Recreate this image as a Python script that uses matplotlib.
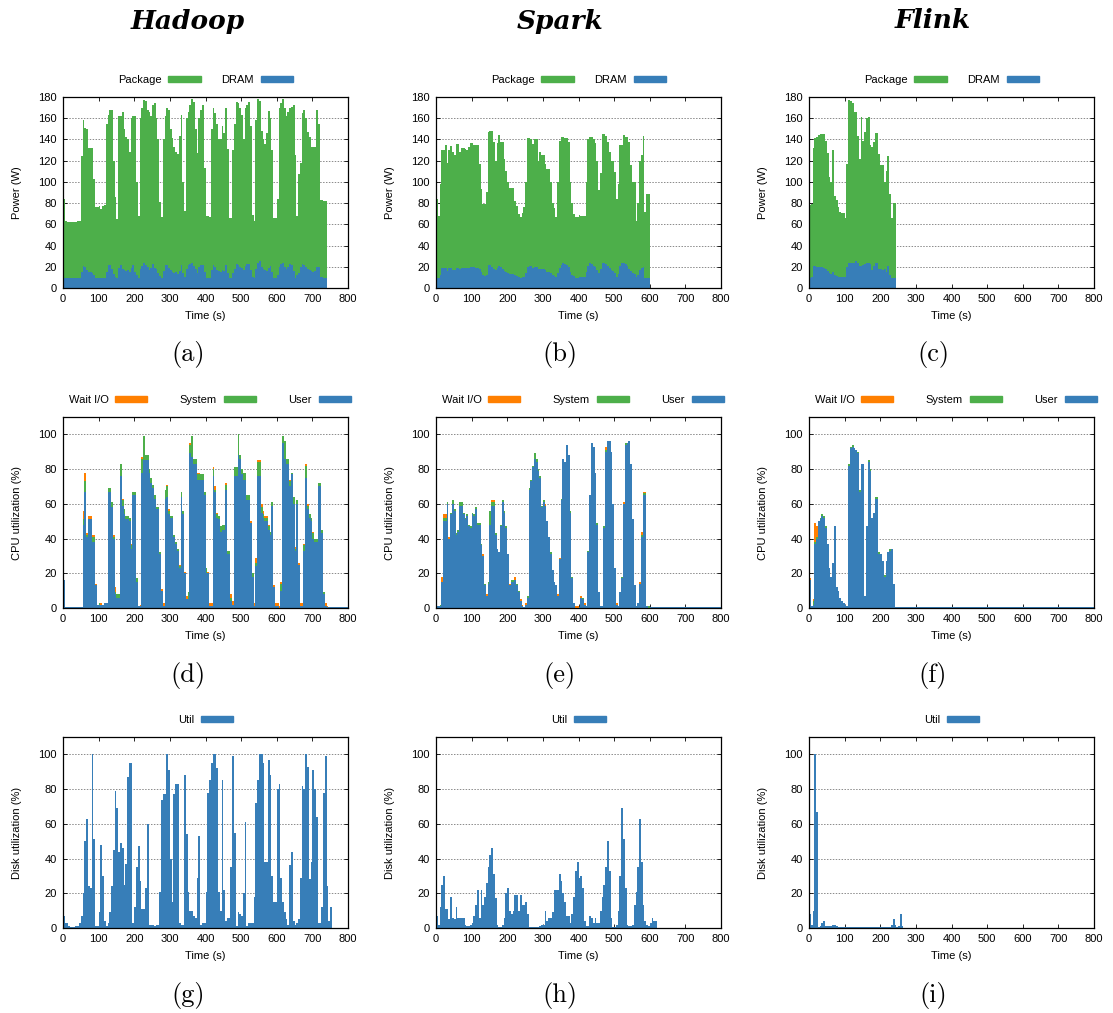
import numpy as np
import matplotlib
matplotlib.use("Agg")
import matplotlib.pyplot as plt
from matplotlib.patches import Patch

# ========================
# Data (one sample every 5 s)
# ========================
STEP = 5

HADOOP_PKG = [
    84, 63, 62, 62, 62, 62, 62, 62, 63, 63,
    124, 158, 151, 150, 132, 132, 132, 103, 76, 76,
    77, 74, 77, 78, 155, 163, 168, 168, 120, 86,
    65, 162, 162, 166, 150, 142, 140, 128, 160, 162,
    162, 100, 68, 160, 170, 177, 176, 168, 166, 162,
    172, 174, 160, 140, 81, 67, 140, 162, 170, 168,
    150, 141, 133, 128, 126, 143, 163, 100, 73, 160,
    166, 172, 178, 175, 150, 127, 160, 168, 172, 113,
    68, 68, 67, 150, 170, 165, 155, 140, 140, 153,
    146, 170, 131, 66, 66, 130, 155, 175, 174, 170,
    163, 140, 170, 172, 175, 153, 69, 63, 158, 178,
    176, 148, 140, 136, 146, 167, 160, 130, 66, 66,
    84, 170, 174, 178, 170, 162, 166, 170, 171, 172,
    125, 68, 107, 118, 165, 168, 160, 147, 142, 133,
    133, 133, 168, 155, 83, 83, 82, 82,
]
HADOOP_DRAM = [
    9, 9, 9, 9, 9, 9, 9, 9, 9, 9,
    15, 21, 20, 17, 15, 15, 14, 12, 9, 9,
    9, 9, 9, 9, 15, 22, 22, 18, 13, 10,
    9, 19, 22, 18, 17, 16, 17, 15, 19, 22,
    15, 12, 9, 18, 21, 24, 22, 20, 17, 19,
    23, 19, 18, 14, 11, 9, 16, 22, 22, 19,
    17, 15, 14, 15, 13, 16, 22, 14, 10, 18,
    22, 23, 24, 21, 18, 14, 20, 22, 22, 15,
    9, 9, 9, 17, 22, 20, 17, 16, 15, 17,
    16, 22, 14, 9, 9, 14, 18, 23, 22, 20,
    19, 17, 21, 23, 23, 17, 10, 9, 18, 24,
    25, 20, 18, 17, 16, 19, 21, 15, 9, 9,
    12, 20, 23, 24, 20, 18, 20, 23, 22, 16,
    9, 12, 14, 20, 23, 22, 20, 18, 17, 16,
    15, 16, 20, 20, 10, 10, 9, 9,
]

SPARK_PKG = [
    84, 68, 98, 130, 130, 135, 118, 130, 134, 128,
    125, 136, 136, 128, 132, 132, 131, 130, 133, 137,
    137, 135, 135, 135, 117, 93, 79, 79, 90, 147,
    148, 148, 138, 120, 137, 144, 138, 138, 122, 110,
    100, 94, 94, 94, 82, 77, 70, 67, 71, 76,
    100, 141, 141, 140, 136, 140, 140, 120, 128, 125,
    125, 117, 112, 112, 100, 80, 75, 67, 100, 139,
    142, 142, 141, 141, 138, 100, 80, 70, 67, 67,
    69, 68, 68, 68, 100, 140, 142, 142, 140, 137,
    120, 92, 108, 145, 145, 143, 138, 128, 120, 120,
    109, 84, 98, 135, 135, 144, 142, 142, 138, 116,
    100, 100, 63, 80, 120, 125, 143, 72, 89, 89,
]
SPARK_DRAM = [
    9, 9, 12, 19, 19, 19, 16, 19, 19, 17,
    17, 19, 19, 18, 19, 19, 19, 19, 19, 20,
    20, 20, 19, 19, 18, 15, 12, 11, 12, 22,
    22, 20, 18, 17, 19, 21, 20, 18, 16, 15,
    14, 13, 13, 13, 12, 11, 10, 9, 10, 10,
    14, 20, 21, 21, 19, 20, 20, 18, 18, 18,
    18, 17, 15, 15, 14, 12, 11, 10, 14, 19,
    22, 24, 23, 22, 20, 15, 12, 11, 9, 9,
    10, 10, 10, 10, 15, 21, 24, 23, 21, 20,
    17, 14, 18, 24, 24, 23, 21, 19, 17, 16,
    14, 10, 13, 21, 24, 24, 23, 21, 18, 16,
    14, 13, 10, 12, 17, 19, 20, 9, 9, 9,
]

FLINK_PKG = [
    78, 79, 132, 141, 142, 144, 145, 145, 145, 139,
    127, 105, 100, 130, 87, 83, 76, 72, 71, 71,
    66, 117, 177, 176, 174, 166, 166, 143, 122, 161,
    139, 147, 160, 161, 135, 133, 138, 146, 146, 126,
    116, 116, 100, 110, 124, 89, 66, 80, 80,
]
FLINK_DRAM = [
    9, 10, 21, 21, 20, 20, 20, 20, 19, 18,
    16, 14, 13, 15, 12, 11, 10, 10, 10, 10,
    10, 20, 24, 24, 24, 24, 25, 24, 21, 21,
    22, 23, 24, 24, 23, 17, 21, 24, 24, 18,
    18, 17, 18, 15, 21, 12, 9, 9, 9,
]

HADOOP_USER = [
    16, .5, .5, .5, .5, .5, .5, .5, .5, .5,
    .5, 48, 67, 41, 51, 51, 38, 38, 13, 2,
    2, 2, 2, 3, 3, 67, 67, 58, 40, 8,
    6, 6, 76, 59, 54, 51, 51, 50, 34, 65,
    65, 15, 1, 1, 78, 85, 85, 85, 78, 72,
    69, 63, 57, 57, 31, 10, 1, 63, 64, 54,
    52, 52, 41, 37, 33, 23, 64, 54, 20, 5,
    5, 89, 87, 83, 83, 74, 74, 74, 74, 65,
    20, 20, 1, 1, 76, 67, 52, 51, 44, 45,
    45, 68, 31, 31, 4, 2, 76, 76, 88, 86,
    77, 74, 74, 62, 62, 49, 18, 1, 24, 76,
    76, 55, 52, 50, 50, 45, 42, 59, 12, 1,
    1, .2, 10, 95, 86, 83, 83, 70, 77, 60,
    33, 60, 25, 1, 1, 33, 75, 57, 52, 50,
    40, 38, 38, 70, 70, 43, 8, 1, .3, .5,
    .5, .5, .5, .5, .5, .5, .5, .5, .5, .5,
]
HADOOP_SYS = [
    0, 0, 0, 0, 0, 0, 0, 0, 0, 0,
    0, 3, 6, 1, 0, 0, 3, 3, 0, 0,
    1, 0, 0, 0, 0, 2, 2, 3, 1, 1,
    2, 2, 7, 3, 3, 2, 2, 2, 2, 2,
    2, 2, 0, 0, 8, 14, 3, 3, 2, 3,
    2, 2, 1, 1, 1, 0, 0, 5, 6, 2,
    1, 1, 1, 1, 1, 1, 3, 2, 0, 0,
    4, 5, 12, 3, 3, 3, 3, 3, 3, 2,
    3, 0, 0, 0, 4, 1, 2, 2, 3, 3,
    3, 3, 2, 2, 2, 0, 5, 5, 12, 2,
    3, 4, 4, 3, 3, 0, 2, 0, 2, 8,
    8, 3, 2, 2, 2, 2, 2, 2, 0, 0,
    0, 0, 4, 4, 10, 3, 3, 3, 1, 4,
    1, 2, 0, 0, 0, 3, 7, 2, 2, 2,
    3, 2, 2, 2, 2, 2, 1, 0, 0, 0,
    0, 0, 0, 0, 0, 0, 0, 0, 0, 0,
]
HADOOP_IOWAIT = [
    0, 0, 0, 0, 0, 0, 0, 0, 0, 0,
    0, 5, 5, 1, 2, 2, 1, 1, 1, 0,
    0, 1, 0, 0, 0, 0, 0, 0, 1, 3,
    0, 0, 0, 1, 0, 0, 0, 0, 1, 0,
    0, 0, 0, 1, 1, 0, 0, 0, 0, 0,
    0, 0, 0, 0, 0, 1, 2, 0, 1, 1,
    0, 0, 0, 0, 0, 1, 0, 0, 1, 2,
    0, 1, 0, 0, 0, 1, 1, 0, 0, 0,
    0, 1, 2, 2, 1, 2, 1, 0, 0, 0,
    0, 1, 0, 0, 2, 2, 0, 0, 0, 0,
    0, 0, 0, 0, 0, 1, 0, 2, 3, 1,
    1, 2, 2, 1, 1, 1, 0, 0, 1, 2,
    2, 1, 1, 0, 0, 0, 0, 1, 0, 0,
    1, 0, 1, 2, 2, 1, 1, 1, 0, 0,
    1, 0, 0, 0, 0, 0, 0, 2, 1, 0,
    0, 0, 0, 0, 0, 0, 0, 0, 0, 0,
]

SPARK_USER = [
    1, 1, 1, 15, 50, 50, 60, 40, 54, 60,
    56, 42, 44, 59, 59, 54, 51, 53, 47, 46,
    54, 53, 57, 48, 48, 36, 30, 13, 7, 14,
    48, 59, 59, 42, 34, 32, 47, 61, 55, 46,
    31, 13, 15, 15, 16, 13, 9, 4, 1, .5,
    2, 6, 68, 73, 81, 86, 84, 79, 75, 58,
    61, 59, 50, 41, 31, 22, 15, 13, 7, 28,
    62, 86, 84, 94, 88, 55, 17, 3, .2, .2,
    .5, 6, 5, 2, 1, 32, 65, 95, 93, 78,
    48, 9, 1, 1, 46, 90, 96, 96, 90, 60,
    23, 2, 1, 9, 17, 60, 94, 95, 96, 83,
    51, 13, 1, 3, 14, 41, 65, 65, 1, .2,
    .5, .5, .5, .5, .5, .5, .5, .5, .5, .5,
    .5, .5, .5, .5, .5, .5, .5, .5, .5, .5,
    .5, .5, .5, .5, .5, .5, .5, .5, .5, .5,
    .5, .5, .5, .5, .5, .5, .5, .5, .5, .5,
]
SPARK_SYS = [
    0, 0, 1, 0, 2, 2, 1, 0, 1, 2,
    1, 1, 1, 2, 2, 1, 1, 1, 1, 1,
    1, 1, 1, 1, 1, 1, 0, 1, 0, 1,
    8, 2, 2, 1, 0, 0, 1, 1, 1, 1,
    0, 0, 1, 1, 0, 1, 1, 0, 0, 0,
    0, 1, 1, 1, 1, 3, 2, 1, 1, 1,
    1, 0, 0, 0, 1, 0, 0, 0, 0, 0,
    1, 0, 0, 0, 0, 1, 1, 0, 0, 0,
    0, 0, 1, 0, 0, 1, 0, 0, 0, 0,
    1, 0, 0, 0, 1, 1, 0, 0, 0, 0,
    0, 0, 0, 0, 1, 0, 1, 0, 0, 0,
    0, 0, 0, 0, 0, 1, 1, 1, 0, 1,
    0, 0, 0, 0, 0, 0, 0, 0, 0, 0,
    0, 0, 0, 0, 0, 0, 0, 0, 0, 0,
    0, 0, 0, 0, 0, 0, 0, 0, 0, 0,
    0, 0, 0, 0, 0, 0, 0, 0, 0, 0,
]
SPARK_IOWAIT = [
    0, 0, 0, 3, 2, 2, 0, 1, 0, 0,
    0, 0, 0, 0, 0, 0, 0, 0, 0, 0,
    0, 0, 0, 0, 0, 0, 1, 0, 1, 0,
    0, 1, 1, 0, 0, 0, 0, 0, 0, 0,
    0, 1, 0, 0, 2, 0, 0, 1, 1, 0,
    1, 0, 0, 0, 0, 0, 0, 0, 0, 0,
    0, 1, 0, 0, 0, 0, 0, 0, 1, 1,
    0, 0, 0, 0, 0, 0, 0, 0, 1, 1,
    0, 1, 0, 1, 0, 0, 0, 0, 0, 0,
    0, 0, 0, 0, 0, 2, 0, 0, 0, 0,
    0, 1, 0, 0, 0, 1, 0, 0, 0, 0,
    0, 0, 0, 0, 1, 2, 1, 1, 0, 0,
    0, 0, 0, 0, 0, 0, 0, 0, 0, 0,
    0, 0, 0, 0, 0, 0, 0, 0, 0, 0,
    0, 0, 0, 0, 0, 0, 0, 0, 0, 0,
    0, 0, 0, 0, 0, 0, 0, 0, 0, 0,
]

FLINK_USER = [
    16, 1, 2, 37, 40, 50, 51, 53, 52, 46,
    37, 23, 18, 26, 47, 12, 10, 6, 4, 3,
    2, 1, 82, 92, 93, 92, 91, 89, 67, 83,
    83, 7, 47, 84, 79, 52, 55, 63, 63, 31,
    31, 27, 18, 27, 32, 33, 34, 14, .5, .5,
    .5, .5, .5, .5, .5, .5, .5, .5, .5, .5,
    .5, .5, .5, .5, .5, .5, .5, .5, .5, .5,
    .5, .5, .5, .5, .5, .5, .5, .5, .5, .5,
    .5, .5, .5, .5, .5, .5, .5, .5, .5, .5,
    .5, .5, .5, .5, .5, .5, .5, .5, .5, .5,
    .5, .5, .5, .5, .5, .5, .5, .5, .5, .5,
    .5, .5, .5, .5, .5, .5, .5, .5, .5, .5,
    .5, .5, .5, .5, .5, .5, .5, .5, .5, .5,
    .5, .5, .5, .5, .5, .5, .5, .5, .5, .5,
    .5, .5, .5, .5, .5, .5, .5, .5, .5, .5,
    .5, .5, .5, .5, .5, .5, .5, .5, .5, .5,
]
FLINK_SYS = [
    0, 0, 2, 1, 1, 0, 1, 1, 1, 1,
    0, 0, 0, 0, 0, 0, 0, 0, 0, 0,
    0, 0, 1, 1, 1, 0, 0, 1, 1, 0,
    0, 0, 0, 1, 1, 0, 0, 1, 1, 1,
    0, 0, 1, 0, 0, 1, 0, 0, 0, 0,
] + [0] * 110
FLINK_IOWAIT = [
    1, 0, 1, 11, 6, 0, 0, 0, 0, 0,
    0, 0, 0, 0, 0, 0, 0, 0, 0, 0,
    0, 0, 0, 0, 0, 0, 0, 0, 0, 0,
    0, 0, 0, 0, 0, 0, 0, 0, 0, 0,
    0, 0, 0, 0, 0, 0, 0, 0, .3, 0,
] + [0] * 110

HADOOP_DISK = [
    7, 3, 3, 1, .5, .5, .5, 1, 1, 3,
    7, 20, 50, 63, 24, 23, 100, 51, 1, 1,
    9, 48, 30, 4, 1, 3, 9, 24, 45, 79,
    69, 44, 49, 46, 25, 37, 87, 95, 95, 3,
    12, 35, 47, 27, 11, 11, 23, 60, 2, 2,
    2, 1, 2, 2, 21, 74, 77, 77, 100, 91,
    40, 15, 77, 83, 83, 3, 2, 2, 88, 54,
    21, 10, 10, 7, 6, 29, 53, 2, 3, 3,
    21, 78, 85, 95, 100, 100, 92, 21, 10, 85,
    22, 4, 6, 6, 35, 99, 55, 1, 9, 8,
    7, 20, 61, 1, 3, 3, 3, 18, 72, 85,
    100, 100, 95, 38, 38, 97, 88, 30, 15, 15,
    80, 83, 29, 15, 9, 5, 2, 36, 44, 4,
    2, 3, 5, 29, 82, 80, 100, 93, 28, 38,
    91, 80, 64, 3, 3, 12, 78, 99, 24, 4,
    12,
]
SPARK_DISK = [
    7, 2, 12, 25, 30, 11, 11, 5, 18, 6,
    5, 12, 6, 6, 6, 6, 2, 1, 1, 2,
    3, 7, 13, 22, 6, 22, 13, 18, 26, 35,
    42, 46, 31, 17, 2, .5, .5, 2, 6, 20,
    23, 10, 8, 10, 19, 19, 10, 19, 13, 13,
    15, 8, .5, .5, .5, .5, .5, .5, 1, 2,
    2, 10, 4, 6, 6, 9, 22, 22, 22, 31,
    27, 20, 15, 7, 7, 3, 8, 18, 33, 38,
    29, 30, 23, 4, 1, 1, 7, 6, 3, 6,
    3, 3, 10, 18, 25, 35, 50, 33, 6, .5,
    .5, 2, 10, 30, 69, 51, 23, 2, 1, 1,
    2, 13, 21, 35, 63, 38, 13, 4, 2, 1,
    3, 6, 4, 4,
]
FLINK_DISK = [
    8, 2, 10, 100, 67, .5, 1, 3, 4, 1,
    1, 1, 1, 2, 2, 1, .5, .5, .5, .5,
    .5, .5, .5, .5, .5, .5, .5, .5, .5, .5,
    .5, .5, .5, .5, .5, .5, .5, .5, .5, .5,
    .5, .5, .5, .5, .5, .5, 2, 5, 2, .5,
    1, 8, 1,
]

FRAMEWORKS = ["Hadoop", "Spark", "Flink"]
CAPTIONS = [["(a)", "(b)", "(c)"], ["(d)", "(e)", "(f)"], ["(g)", "(h)", "(i)"]]

GREEN = "#4daf4a"
BLUE = "#377eb8"
ORANGE = "#ff7f00"

# ========================
# Layout (pixels of the 1113x1013 figure)
# ========================
W, H = 1113, 1013
COL_X = [63, 436, 809]
COL_W = 285
ROW_TOP = [97, 417, 737]
AX_H = 191
CAP_X = [188, 560, 933]
CAP_Y = [355, 675, 995]
FS = 8

plt.rcParams["font.family"] = ["Liberation Sans", "DejaVu Sans"]
plt.rcParams["font.size"] = FS

fig = plt.figure(figsize=(W / 100, H / 100), dpi=100)


def make_axes(r, c):
    return fig.add_axes([COL_X[c] / W, 1 - (ROW_TOP[r] + AX_H) / H,
                         COL_W / W, AX_H / H])


def edges_for(values):
    return np.arange(len(values) + 1) * STEP


def style_axes(ax, ymax, ytop, ylabel):
    ax.set_xlim(0, 800)
    ax.set_ylim(0, ymax)
    ax.set_xticks(range(0, 801, 100))
    ax.set_yticks(range(0, ytop + 1, 20))
    ax.yaxis.grid(True, color="#8a8a8a", linestyle=(0, (1.5, 1.5)), linewidth=0.7)
    ax.set_axisbelow(True)
    ax.tick_params(direction="in", length=3, width=0.6, top=True, right=True,
                   labelsize=FS, pad=4.5)
    for s in ax.spines.values():
        s.set_linewidth(0.9)
    ax.set_xlabel("Time (s)", fontsize=FS)
    ax.set_ylabel(ylabel, fontsize=FS)
    ax.xaxis.set_label_coords(0.5, -23 / AX_H)
    ax.yaxis.set_label_coords(-41 / COL_W, 0.5)


def legend(ax, handles, labels, expand=False):
    kw = dict(ncol=len(labels), markerfirst=False, frameon=False, fontsize=FS,
              handlelength=2.9, handleheight=0.55, handletextpad=0.6,
              columnspacing=1.9, borderpad=0, borderaxespad=0)
    if expand:
        ax.legend(handles, labels, loc="center", mode="expand",
                  bbox_to_anchor=(0.02, 1.0, 0.99, 2 * 17 / AX_H), **kw)
    else:
        ax.legend(handles, labels, loc="center",
                  bbox_to_anchor=(0.5, 1 + 17 / AX_H), **kw)


power = [(HADOOP_PKG, HADOOP_DRAM), (SPARK_PKG, SPARK_DRAM), (FLINK_PKG, FLINK_DRAM)]
cpu = [(HADOOP_USER, HADOOP_SYS, HADOOP_IOWAIT),
       (SPARK_USER, SPARK_SYS, SPARK_IOWAIT),
       (FLINK_USER, FLINK_SYS, FLINK_IOWAIT)]
disk = [HADOOP_DISK, SPARK_DISK, FLINK_DISK]

for c in range(3):
    # power
    ax = make_axes(0, c)
    pkg, dram = power[c]
    ax.stairs(pkg, edges_for(pkg), fill=True, color=GREEN, linewidth=0)
    ax.stairs(dram, edges_for(dram), fill=True, color=BLUE, linewidth=0)
    style_axes(ax, 180, 180, "Power (W)")
    legend(ax, [Patch(color=GREEN), Patch(color=BLUE)], ["Package", "DRAM"])

    # cpu (stacked)
    ax = make_axes(1, c)
    user, sys_, io = [np.asarray(v, dtype=float) for v in cpu[c]]
    e = edges_for(user)
    ax.stairs(user, e, fill=True, color=BLUE, linewidth=0)
    ax.stairs(user + sys_, e, baseline=user, fill=True, color=GREEN, linewidth=0)
    ax.stairs(user + sys_ + io, e, baseline=user + sys_, fill=True, color=ORANGE, linewidth=0)
    style_axes(ax, 110, 100, "CPU utilization (%)")
    legend(ax, [Patch(color=ORANGE), Patch(color=GREEN), Patch(color=BLUE)],
           ["Wait I/O", "System", "User"], expand=True)

    # disk
    ax = make_axes(2, c)
    d = disk[c]
    ax.stairs(d, edges_for(d), fill=True, color=BLUE, linewidth=0)
    style_axes(ax, 110, 100, "Disk utilization (%)")
    legend(ax, [Patch(color=BLUE)], ["Util"])

    fig.text(CAP_X[c] / W, 1 - 21 / H, FRAMEWORKS[c], ha="center", va="center",
             family="DejaVu Serif", weight="bold", style="italic", fontsize=19)
    for r in range(3):
        fig.text(CAP_X[c] / W, 1 - CAP_Y[r] / H, CAPTIONS[r][c], ha="center",
                 va="center", family="cmr10", fontsize=19)

fig.savefig("out.png", dpi=100)
